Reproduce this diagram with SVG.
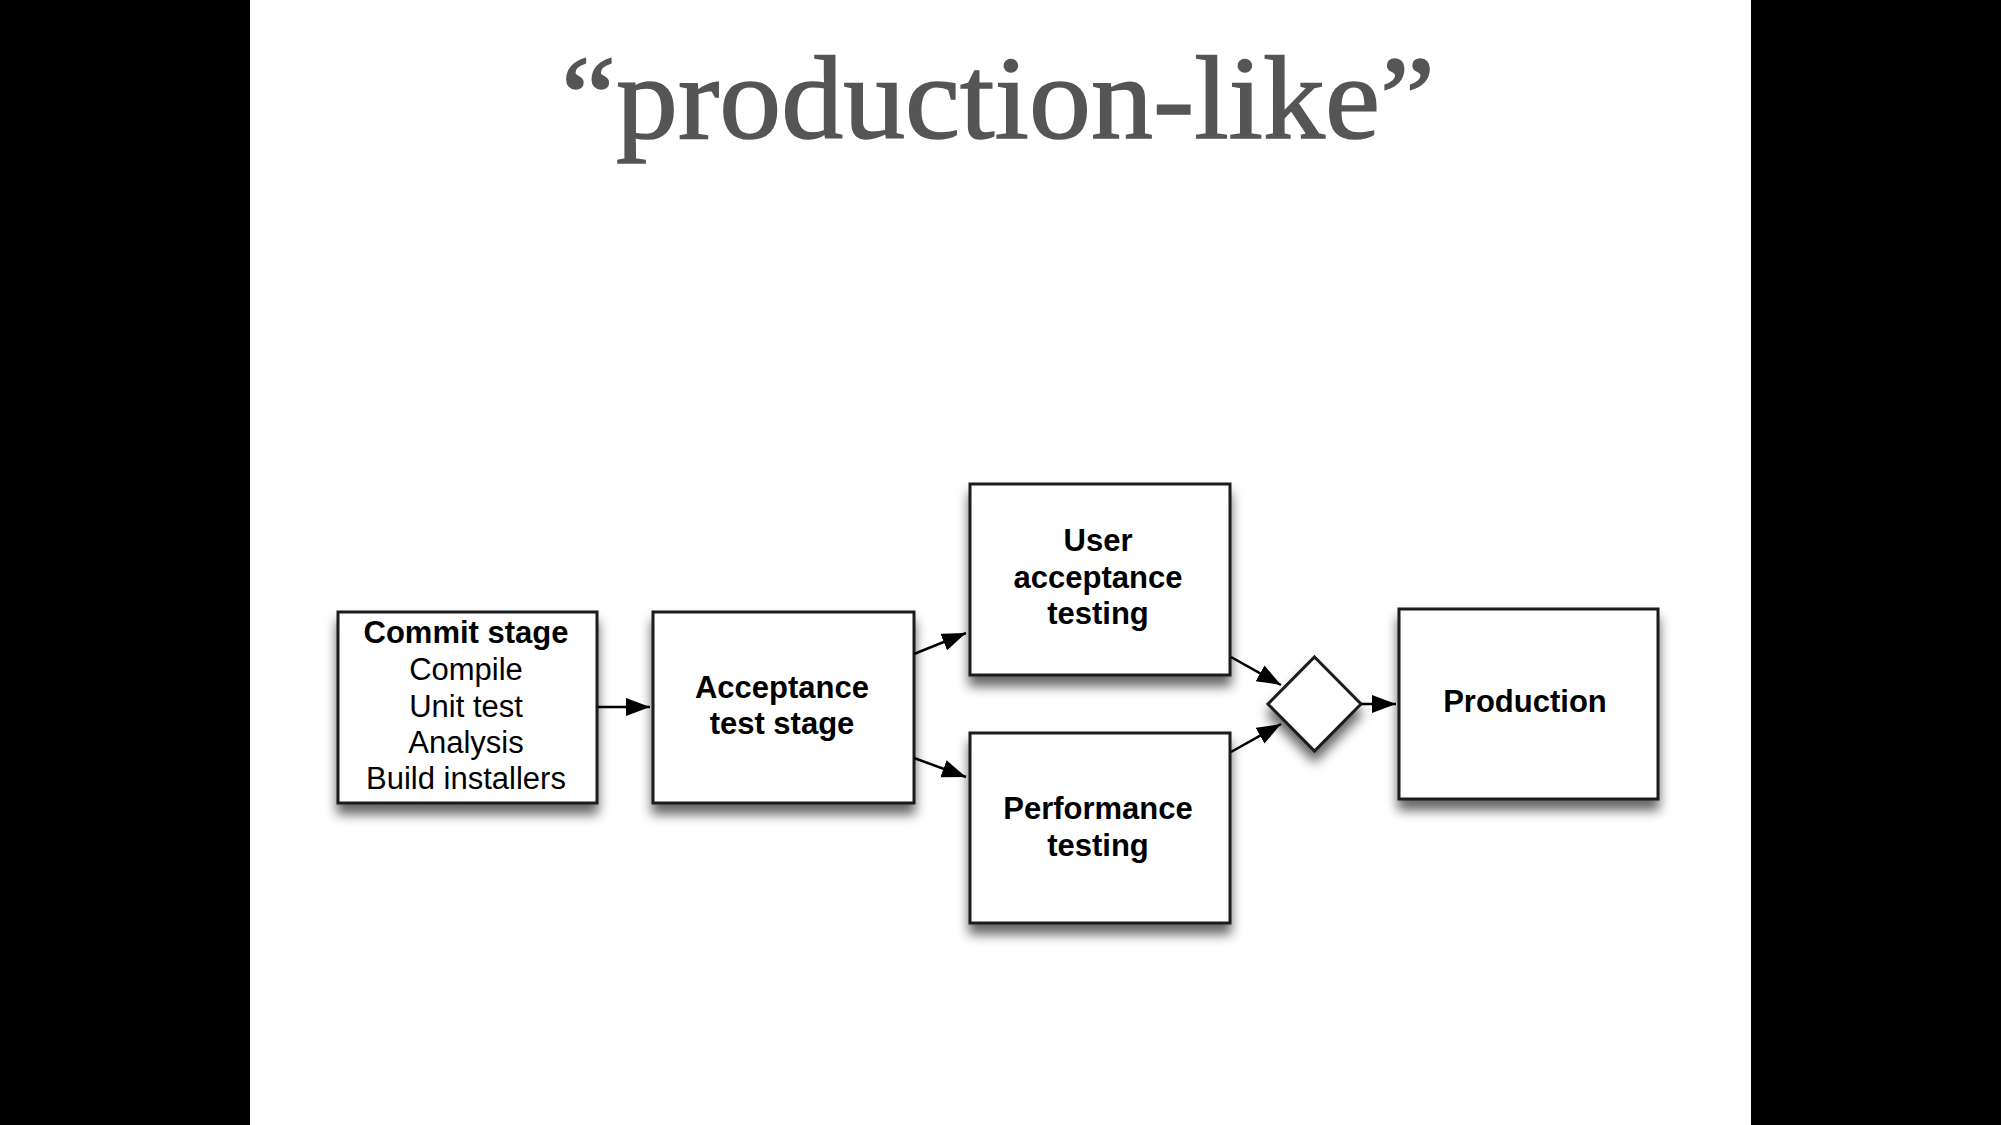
<svg xmlns="http://www.w3.org/2000/svg" width="2001" height="1125" viewBox="0 0 2001 1125">
<style>
.box{fill:#fff;stroke:#1a1a1a;stroke-width:3}
.b{font-family:"Liberation Sans",Arial,sans-serif;font-weight:bold;font-size:31px;fill:#000;text-anchor:middle}
.r{font-family:"Liberation Sans",Arial,sans-serif;font-size:31px;fill:#000;text-anchor:middle}
.c{fill:none;stroke:#000;stroke-width:2.5}
</style>
<defs>
<filter id="sh" x="-20%" y="-20%" width="140%" height="150%">
<feDropShadow dx="0" dy="10" stdDeviation="6" flood-color="#000" flood-opacity="0.6"/>
</filter>
<marker id="ah" markerUnits="userSpaceOnUse" markerWidth="26" markerHeight="20" refX="24" refY="9" orient="auto">
<path d="M0,0 L24,9 L0,18 z" fill="#000"/>
</marker>
</defs>
<rect x="0" y="0" width="2001" height="1125" fill="#000"/>
<rect x="250" y="0" width="1501" height="1125" fill="#fff"/>
<text x="998" y="138" font-family="Liberation Serif,'Times New Roman',serif" font-size="118" fill="#555" stroke="#555" stroke-width="1.5" text-anchor="middle" textLength="874" lengthAdjust="spacingAndGlyphs">“production-like”</text>
<g id="commit">
<rect class="box" x="338" y="612" width="259" height="191" filter="url(#sh)"/>
<text class="b" x="466" y="643">Commit stage</text>
<text class="r" x="466" y="680">Compile</text>
<text class="r" x="466" y="717">Unit test</text>
<text class="r" x="466" y="753">Analysis</text>
<text class="r" x="466" y="789">Build installers</text>
</g>
<g id="acceptance">
<rect class="box" x="653" y="612" width="261" height="191" filter="url(#sh)"/>
<text class="b" x="782" y="698">Acceptance</text>
<text class="b" x="782" y="734">test stage</text>
</g>
<g id="uat">
<rect class="box" x="970" y="484" width="260" height="191" filter="url(#sh)"/>
<text class="b" x="1098" y="551">User</text>
<text class="b" x="1098" y="588">acceptance</text>
<text class="b" x="1098" y="624">testing</text>
</g>
<g id="perf">
<rect class="box" x="970" y="733" width="260" height="190" filter="url(#sh)"/>
<text class="b" x="1098" y="819">Performance</text>
<text class="b" x="1098" y="856">testing</text>
</g>
<g id="gate">
<polygon class="box" points="1314.5,657 1361,704 1314.5,751 1268,704" filter="url(#sh)"/>
</g>
<g id="production">
<rect class="box" x="1399" y="609" width="259" height="190" filter="url(#sh)"/>
<text class="b" x="1525" y="712">Production</text>
</g>
<g id="connectors">
<line class="c" x1="598" y1="707" x2="650" y2="707" marker-end="url(#ah)"/>
<line class="c" x1="914" y1="654" x2="966" y2="633" marker-end="url(#ah)"/>
<line class="c" x1="914" y1="758" x2="966" y2="777" marker-end="url(#ah)"/>
<line class="c" x1="1231" y1="657" x2="1281" y2="685" marker-end="url(#ah)"/>
<line class="c" x1="1231" y1="752" x2="1281" y2="724" marker-end="url(#ah)"/>
<line class="c" x1="1361" y1="704" x2="1396" y2="704" marker-end="url(#ah)"/>
</g>
</svg>
